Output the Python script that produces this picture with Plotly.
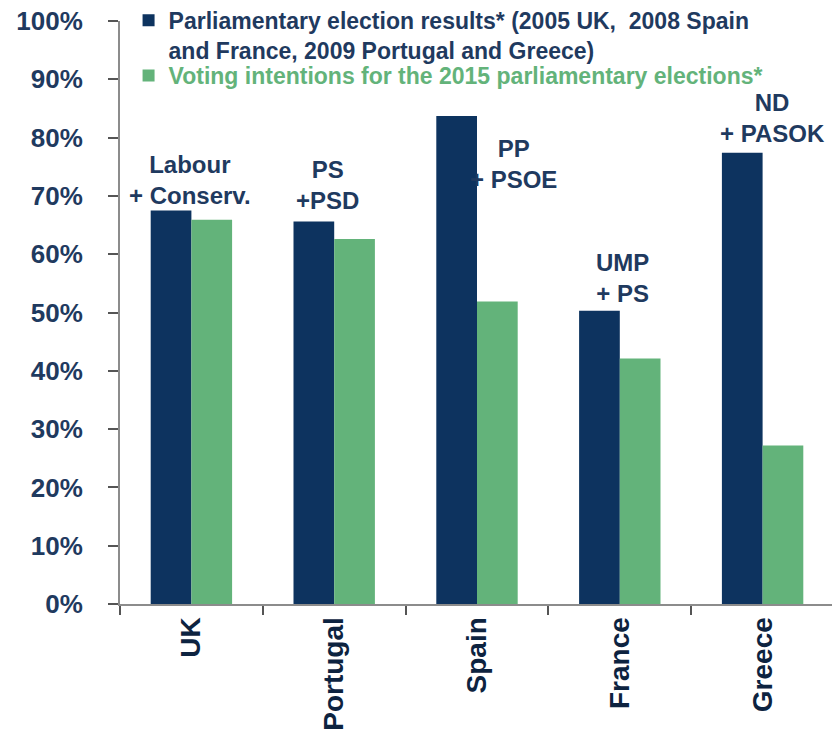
import plotly.graph_objects as go

countries = ["UK", "Portugal", "Spain", "France", "Greece"]
election_results = [67.5, 65.6, 83.7, 50.3, 77.4]
voting_intentions = [65.9, 62.6, 51.9, 42.1, 27.2]
y_ticks = [0, 10, 20, 30, 40, 50, 60, 70, 80, 90, 100]
y_tick_labels = [f"{v}%" for v in y_ticks]

party_labels = ["Labour<br>+ Conserv.", "PS<br>+PSD", "PP<br>+ PSOE", "UMP<br>+ PS", "ND<br>+ PASOK"]
party_label_y = [72.7, 71.9, 75.5, 56.0, 83.4]
party_label_shift = [-1, -7, 36, 3, 10]

NAVY = "#0D335F"
GREEN = "#63B37A"
TEXT = "#1F3A5F"
FONT = "Liberation Sans, Arial, sans-serif"

fig = go.Figure()
fig.add_trace(go.Bar(
    x=countries, y=election_results,
    name="<b>Parliamentary election results* (2005 UK,  2008 Spain<br>and France, 2009 Portugal and Greece)</b>",
    marker=dict(color=NAVY, line=dict(width=0)),
    legend="legend",
))
fig.add_trace(go.Bar(
    x=countries, y=voting_intentions,
    name=f"<b><span style='color:{GREEN}'>Voting intentions for the 2015 parliamentary elections*</span></b>",
    marker=dict(color=GREEN, line=dict(width=0)),
    legend="legend2",
))

for c, t, yv, sh in zip(countries, party_labels, party_label_y, party_label_shift):
    fig.add_annotation(x=c, y=yv, text=f"<b>{t}</b>", showarrow=False,
                       xref="x", yref="y", xanchor="center", yanchor="middle",
                       xshift=sh, font=dict(size=24, color=TEXT, family=FONT))

legend_common = dict(
    xanchor="left", yanchor="top",
    font=dict(size=23, color=TEXT, family=FONT),
    bgcolor="rgba(0,0,0,0)", valign="top",
    tracegroupgap=0, itemwidth=30,
)

fig.update_layout(
    width=832, height=732,
    margin=dict(l=112, r=6, t=13, b=136, autoexpand=False),
    paper_bgcolor="white", plot_bgcolor="white",
    barmode="group", bargap=0.43, bargroupgap=0,
    font=dict(family=FONT, color=TEXT),
    showlegend=True,
    legend=dict(x=0.012, y=1.038, **legend_common),
    legend2=dict(x=0.012, y=0.9434, **legend_common),
)
fig.update_yaxes(
    range=[0, 100], tickvals=y_ticks, ticktext=[f"<b>{s}</b>" for s in y_tick_labels],
    tickfont=dict(size=26, color=TEXT, family=FONT),
    showgrid=False, zeroline=False,
    showline=True, linecolor="#8C8C8C", linewidth=2,
    ticks="outside", ticklen=10, tickcolor="#555555", tickwidth=1.5,
    ticklabelstandoff=20, ticklabeloverflow="allow",
)
fig.update_xaxes(
    tickvals=countries, ticktext=[f"<b>{c}</b>" for c in countries],
    tickfont=dict(size=28, color="#0D2340", family=FONT),
    tickangle=-90,
    showline=True, linecolor="#8C8C8C", linewidth=2,
    ticks="outside", ticklen=9, tickcolor="#555555", tickwidth=1.5,
    tickson="boundaries", showgrid=False,
)

fig.write_html("out.html")
